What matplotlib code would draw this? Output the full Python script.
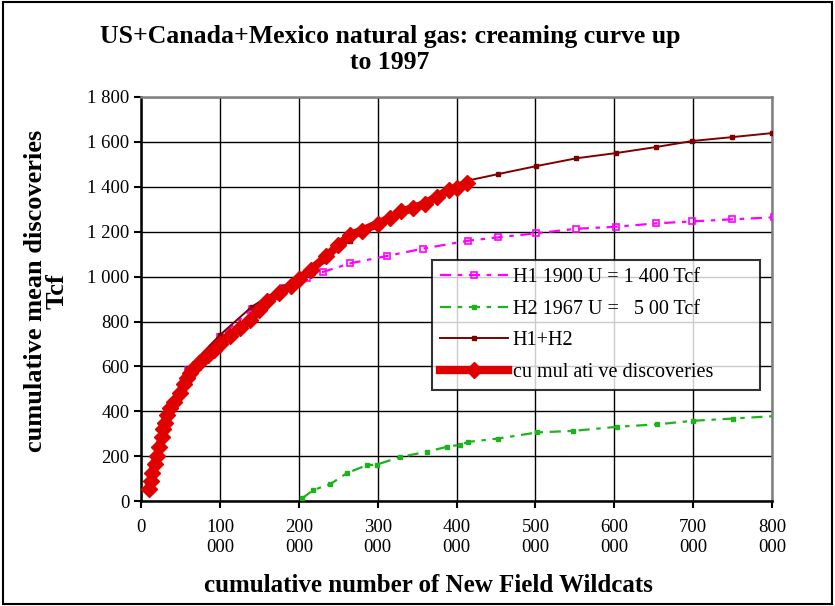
import matplotlib
matplotlib.use('Agg')
import matplotlib.pyplot as plt
from matplotlib.patches import Rectangle
from matplotlib.ticker import FuncFormatter

plt.rcParams['font.family'] = ['Liberation Serif', 'DejaVu Serif']

# cumulative discoveries (x in thousands of wildcats, y in Tcf)
disc_x = [10, 12, 14, 17, 20, 23, 26, 28, 30, 33, 37, 42, 49, 54, 58, 62, 66, 75, 85, 92,
          100, 113, 125, 138, 150, 160, 175, 190, 200, 215, 235, 250, 265, 280, 300, 315,
          330, 345, 360, 375, 390, 400, 413]
disc_y = [55, 90, 125, 165, 200, 240, 285, 320, 350, 385, 415, 440, 480, 520, 550, 570, 590,
          620, 650, 675, 700, 735, 770, 805, 850, 890, 925, 960, 990, 1030, 1090, 1140, 1185,
          1205, 1235, 1260, 1290, 1305, 1325, 1355, 1385, 1395, 1416]

# H1 1900 model
h1_x = [20, 35, 60, 100, 140, 180, 210, 230, 265, 312, 358, 415, 453, 501, 552, 602, 653,
        699, 749, 802]
h1_y = [200, 400, 585, 730, 855, 950, 995, 1020, 1059, 1092, 1125, 1160, 1175, 1193, 1213,
        1222, 1237, 1246, 1255, 1264]

# H2 1967 model
h2_x = [204, 218, 240, 261, 286, 299, 328, 362, 388, 404, 415, 453, 502, 548, 603, 654, 700,
        751, 804]
h2_y = [12, 49, 76, 125, 160, 163, 196, 220, 242, 251, 264, 279, 306, 313, 331, 342, 358,
        368, 379]

# H1+H2
sum_x = [20, 35, 60, 100, 140, 180, 200, 230, 265, 300, 350, 400, 416, 452, 501, 552, 602,
         653, 699, 749, 800, 808]
sum_y = [200, 400, 595, 740, 865, 955, 990, 1070, 1160, 1240, 1320, 1400, 1429, 1456, 1492,
         1527, 1550, 1577, 1604, 1621, 1639, 1641]

fig = plt.figure(figsize=(8.35, 6.06), dpi=100)
ax = fig.add_axes([0.169, 0.173, 0.7556, 0.667])

ax.plot([x * 1000 for x in h1_x], h1_y, color='#FF00FF', lw=1.6, dashes=(5, 3, 2, 3),
        marker='s', ms=4, mfc='none', mew=1.2, label='H1 1900 U = 1 400 Tcf', zorder=3)
ax.plot([x * 1000 for x in h2_x], h2_y, color='#1DB31D', lw=1.6, dashes=(5, 3, 2, 3),
        marker='s', ms=3, mfc='#1DB31D', mew=1, label='H2 1967 U =   5 00 Tcf', zorder=3)
ax.plot([x * 1000 for x in sum_x], sum_y, color='#800000', lw=1.4, marker='s', ms=3,
        label='H1+H2', zorder=4)
ax.plot([x * 1000 for x in disc_x], disc_y, color='#E00000', lw=6, marker='D', ms=8,
        label='cu mul ati ve discoveries', zorder=5)

ax.set_xlim(0, 800000)
ax.set_ylim(0, 1800)
ax.set_xticks(range(0, 800001, 100000))
ax.set_yticks(range(0, 1801, 200))
ax.xaxis.set_major_formatter(FuncFormatter(
    lambda v, p: '0' if v == 0 else f'{int(v // 1000)}\n000'))
ax.yaxis.set_major_formatter(FuncFormatter(
    lambda v, p: f'{int(v):,}'.replace(',', ' ')))
ax.tick_params(axis='both', labelsize=13.5, length=5, width=1.5, direction='out')
ax.tick_params(axis='x', pad=8)

ax.grid(True, color='black', lw=1)
ax.set_axisbelow(True)
for s in ('left', 'bottom'):
    ax.spines[s].set_color('black')
    ax.spines[s].set_linewidth(1.8)
for s in ('top', 'right'):
    ax.spines[s].set_color('#808080')
    ax.spines[s].set_linewidth(1.8)

ax.set_xlabel('cumulative number of New Field Wildcats', fontsize=18, fontweight='bold')
ax.xaxis.set_label_coords(0.455, -0.18)
ax.set_ylabel('cumulative mean discoveries\nTcf', fontsize=19, fontweight='bold',
              linespacing=0.9)
ax.yaxis.set_label_coords(-0.115, 0.52)
fig.text(0.467, 0.918, 'US+Canada+Mexico natural gas: creaming curve up\nto 1997',
         ha='center', va='center', fontsize=18.5, fontweight='bold', linespacing=1.2)

leg = ax.legend(loc='upper left', bbox_to_anchor=(0.461, 0.275, 0.52, 0.322),
                mode='expand', fontsize=14.5, frameon=True, fancybox=False,
                edgecolor='black', handlelength=3.4, borderpad=0.4, labelspacing=0.62,
                handletextpad=0.2, borderaxespad=0, numpoints=1)
leg.get_frame().set_linewidth(1.5)
leg.set_zorder(10)

fig.patches.append(Rectangle((0.003, 0.004), 0.993, 0.992, transform=fig.transFigure,
                             fill=False, edgecolor='black', lw=1.5))

fig.savefig('out.png', dpi=100)
